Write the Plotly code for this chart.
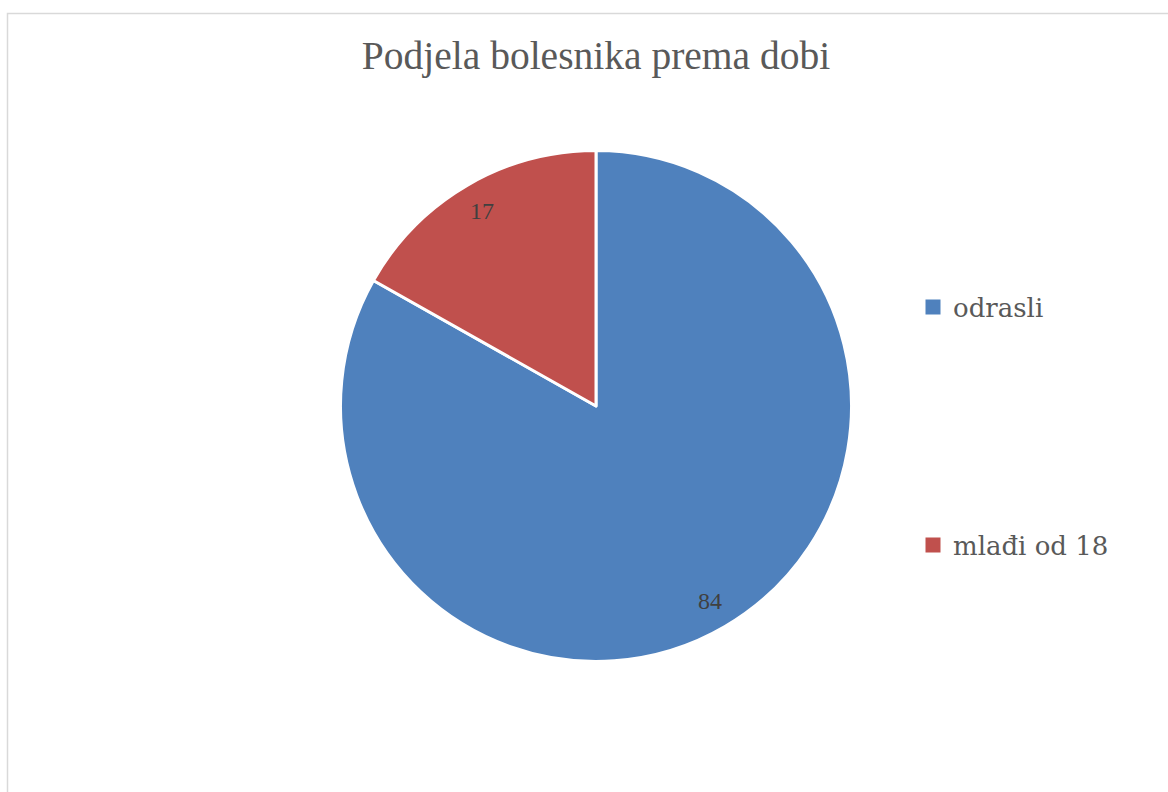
import math
import plotly.graph_objects as go

# Data
labels = ["odrasli", "mlađi od 18"]
values = [84, 17]
colors = ["#4F81BD", "#C0504D"]
title_text = "Podjela bolesnika prema dobi"

W, H = 1168, 792

# pie geometry (pixels)
CX, CY, R = 596, 406, 254
LABEL_FRAC = 0.89

fig = go.Figure()

fig.add_trace(go.Pie(
    labels=labels,
    values=values,
    sort=False,
    direction="clockwise",
    rotation=0,
    marker=dict(colors=colors, line=dict(color="white", width=3)),
    textinfo="none",
    showlegend=False,
    domain=dict(x=[(CX - R - 1.5) / W, (CX + R + 1.5) / W],
                y=[1 - (CY + R + 1.5) / H, 1 - (CY - R - 1.5) / H]),
    hoverinfo="label+value",
))

# Data labels placed near the rim of each slice, derived from the values
total = sum(values)
annotations = []
cum = 0
for v in values:
    mid = (cum + v / 2) / total
    th = 2 * math.pi * mid
    px = CX + LABEL_FRAC * R * math.sin(th)
    py = CY - LABEL_FRAC * R * math.cos(th)
    annotations.append(dict(
        x=px / W, y=1 - py / H, xref="paper", yref="paper",
        text=str(v), showarrow=False, xanchor="center", yanchor="middle",
        font=dict(family="Liberation Serif", size=24, color="#404040"),
    ))
    cum += v

# Legend entries (one legend per category, spaced like the reference)
legend_names = ["legend", "legend2"]
for lab, col, lg in zip(labels, colors, legend_names):
    fig.add_trace(go.Scatter(
        x=[None], y=[None], mode="markers", name=lab,
        marker=dict(symbol="square", size=15, color=col),
        legend=lg, showlegend=True, hoverinfo="skip",
    ))

legend_style = dict(
    font=dict(family="DejaVu Serif", size=26, color="#595959"),
    bgcolor="rgba(0,0,0,0)", borderwidth=0,
    xanchor="left", yanchor="middle", itemwidth=30,
)

fig.update_layout(
    width=W, height=H,
    margin=dict(l=0, r=0, t=0, b=0),
    paper_bgcolor="white",
    plot_bgcolor="white",
    title=dict(
        text=title_text,
        font=dict(family="Liberation Serif", size=39.5, color="#595959"),
        x=596 / W, xanchor="center",
        y=1 - 55 / H, yanchor="middle",
    ),
    xaxis=dict(visible=False),
    yaxis=dict(visible=False),
    legend=dict(x=913 / W, y=1 - 307 / H, **legend_style),
    legend2=dict(x=913 / W, y=1 - 545 / H, **legend_style),
    annotations=annotations,
    shapes=[dict(
        type="rect", xref="paper", yref="paper",
        x0=7.5 / W, x1=1.02, y0=-0.02, y1=1 - 13.5 / H,
        line=dict(color="#D9D9D9", width=1.5),
        fillcolor="rgba(0,0,0,0)", layer="below",
    )],
)

fig.write_html("out.html",
               config={"displayModeBar": False},
               post_script="document.body.style.margin='0px';document.body.style.overflow='hidden';")
